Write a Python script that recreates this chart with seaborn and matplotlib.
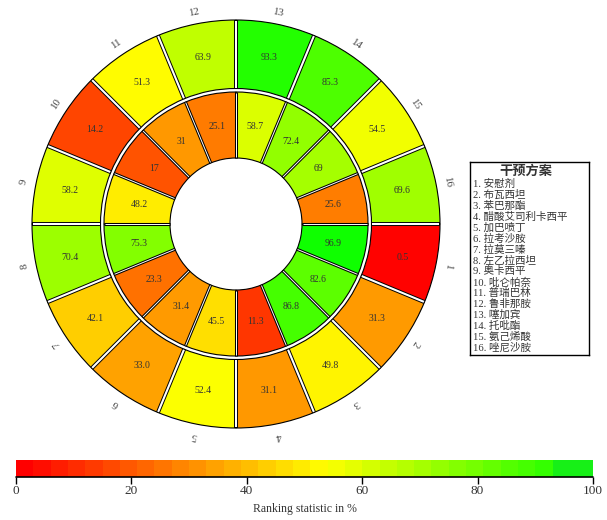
import numpy as np
import matplotlib
matplotlib.use("Agg")
import matplotlib.pyplot as plt
from matplotlib.colors import ListedColormap, BoundaryNorm, Normalize, LinearSegmentedColormap
from matplotlib.cm import ScalarMappable
from matplotlib.ticker import NullLocator
import seaborn as sns

# ---- data -------------------------------------------------------------
segments = list(range(1, 17))
treatments = ["安慰剂", "布瓦西坦", "苯巴那酯", "醋酸艾司利卡西平", "加巴喷丁",
              "拉考沙胺", "拉莫三嗪", "左乙拉西坦", "奥卡西平", "吡仑帕奈",
              "普瑞巴林", "鲁非那胺", "噻加宾", "托吡酯", "氨己烯酸", "唑尼沙胺"]
outer_values = [0.5, 31.3, 49.8, 31.1, 52.4, 33.0, 42.1, 70.4,
                58.2, 14.2, 51.3, 63.9, 93.3, 85.3, 54.5, 69.6]
inner_values = [96.9, 82.6, 86.8, 11.3, 45.5, 31.4, 23.3, 75.3,
                48.2, 17, 31, 25.1, 58.7, 72.4, 69, 25.6]
cbar_ticks = [0, 20, 40, 60, 80, 100]

# ---- style ------------------------------------------------------------
sns.set_theme(style="white")
plt.rcParams["font.family"] = ["Liberation Serif", "Noto Sans CJK SC", "DejaVu Sans"]
TEXT = "#333333"

# continuous red-yellow-green scale for the wedges
anchors = sns.color_palette(["#FF0000", "#FFFF00", "#00FF00"])
cmap = LinearSegmentedColormap.from_list(
    "ryg", list(zip([0.0, 0.52, 1.0], anchors)))
vnorm = Normalize(0, 100)

# stepped version of the same scale (bins of 3 %) for the colour bar
bounds = list(np.arange(0, 100, 3)) + [100]
steps = [cmap(b / 100) for b in bounds[:-1]]
steps[-3:] = ["#17F017"] * 3
step_cmap = ListedColormap(steps)
step_norm = BoundaryNorm(bounds, step_cmap.N)

W, H = 607, 520
fig = plt.figure(figsize=(W / 100, H / 100), dpi=100)

def fx(px):
    return px / W

def fy(py):
    return 1 - py / H

# ---- circular panel ---------------------------------------------------
cx, cy, R = 236, 224, 224
ax = fig.add_axes([fx(cx - R), fy(cy + R), 2 * R / W, 2 * R / H], projection="polar")
ax.set_ylim(0, R)
ax.set_axis_off()

step = 22.5
centers_deg = np.array([-step / 2 - step * (k - 1) for k in segments])
theta = np.deg2rad(centers_deg)
width = np.deg2rad(step)

rings = [
    (66, 132, inner_values, lambda v: f"{v:g}", 2.2, 0.7),
    (135.5, 204, outer_values, lambda v: f"{v:.1f}", 2.9, 1.5),
]
for r0, r1, vals, fmt, blk, wht in rings:
    ax.bar(theta, r1 - r0, width=width, bottom=r0,
           color=[cmap(vnorm(v)) for v in vals],
           edgecolor="black", linewidth=0.8, align="center")
    for b in np.deg2rad(np.arange(0, 360, step)):
        ax.plot([b, b], [r0, r1], color="black", lw=blk, solid_capstyle="butt")
        ax.plot([b, b], [r0 + 0.6, r1 - 0.6], color="white", lw=wht, solid_capstyle="butt")
    rm = (r0 + r1) / 2
    for t, v in zip(theta, vals):
        ax.text(t, rm, fmt(v), ha="center", va="center", fontsize=7, color=TEXT)

for t, d, k in zip(theta, centers_deg, segments):
    ax.text(t, 216, str(k), ha="center", va="center", rotation=d - 90,
            rotation_mode="anchor", fontsize=7.8, color="#444444")

# ---- legend box -------------------------------------------------------
lx0, ly0, lx1, ly1 = 470, 162, 589, 355
lax = fig.add_axes([fx(lx0), fy(ly1), (lx1 - lx0) / W, (ly1 - ly0) / H])
lax.set_xticks([])
lax.set_yticks([])
for s in lax.spines.values():
    s.set_visible(True)
    s.set_color("black")
    s.set_linewidth(1.0)
fig.text(fx(526), fy(172), "干预方案", ha="center", va="center",
         fontsize=9.5, fontweight="bold", color=TEXT)
for i, name in enumerate(treatments):
    fig.text(fx(473), fy(184 + i * 10.93), f"{i + 1}. {name}", ha="left",
             va="center", fontsize=7.6, color=TEXT)

# ---- colour bar -------------------------------------------------------
cax = fig.add_axes([fx(16), fy(477), (593 - 16) / W, 17 / H])
cb = fig.colorbar(ScalarMappable(norm=step_norm, cmap=step_cmap), cax=cax,
                  orientation="horizontal", ticks=cbar_ticks, spacing="proportional")
cb.outline.set_visible(False)
cax.xaxis.set_minor_locator(NullLocator())
cax.axhline(cax.get_ylim()[0], color="black", lw=1.2, clip_on=False)
cax.tick_params(axis="x", which="major", length=5, width=1.0, color="black",
                labelsize=9.5, labelcolor=TEXT, pad=1, direction="out", bottom=True)
cb.set_label("Ranking statistic in %", fontsize=8.5, color=TEXT, labelpad=4)

fig.savefig("out.png", dpi=100, facecolor="white")
